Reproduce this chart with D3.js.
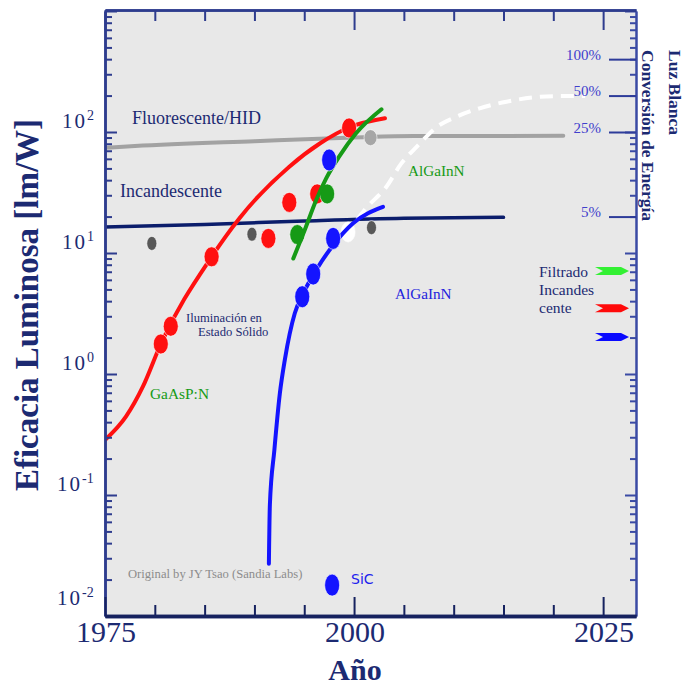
<!DOCTYPE html>
<html>
<head>
<meta charset="utf-8">
<script src="https://cdn.jsdelivr.net/npm/d3@7"></script>
<style>
  body { margin: 0; background: #fff; }
  svg { display: block; font-family: "Liberation Serif", "Times New Roman", serif; }
</style>
</head>
<body>
<svg id="chart" width="684" height="686"></svg>
<script>
// ---- tick labels ----
const yearTicks = [1975, 2000, 2025];
const yearMinorTicks = [1980, 1985, 1990, 1995, 2005, 2010, 2015, 2020];
const decadeExponents = [-2, -1, 0, 1, 2, 3];
const percentTicks = [100, 50, 25, 5];          // % of white-light maximum
const whiteLightMax = 400;                      // lm/W at 100 %

// ---- series: [year, lm/W] ----
const fluorescentHID = [[1975, 74], [1978, 76.5], [1990, 84], [2000, 90], [2006, 92.5], [2021, 93]];
const incandescent   = [[1975, 16.4], [1985, 17.2], [1995, 18.4], [2005, 19.4], [2015, 19.7]];
const sslCurve       = [[1975, 0.285], [1977.1, 0.444], [1978.8, 0.785], [1980.6, 1.77], [1985.7, 9.3],
                        [1988.5, 19.4], [1993.5, 51.7], [1996.6, 80.7], [1999.6, 110], [2003.1, 130]];
const greenAlGaInN   = [[1993.9, 9.0], [1995.05, 15.5], [1996.2, 27.4], [1997.2, 41.4], [1998.5, 62.5],
                        [2000.2, 97.5], [2002.75, 154]];
const blueAlGaInN    = [[1991.45, 0.027], [1991.55, 0.083], [1992.0, 0.235], [1992.55, 0.69], [1993.05, 1.31],
                        [1994.05, 3.18], [1994.9, 4.64], [1996.2, 7.24], [1997.9, 11.6], [1999.9, 17.6],
                        [2002.9, 24.1]];
const whiteProjection = [[1999.1, 13.6], [2001.2, 23.4], [2003.25, 35.3], [2004.75, 55], [2006.3, 75.6],
                         [2008.3, 110], [2010.3, 134], [2012.6, 157], [2015.3, 178], [2018.0, 193],
                         [2020.6, 198], [2023.2, 198]];

const redPoints      = [[1980.6, 1.77], [1981.6, 2.48], [1985.7, 9.3], [1991.4, 13.2], [1993.5, 26.2],
                        [1996.3, 30.8], [1999.5, 108]];
const greenPoints    = [[1994.3, 14.2], [1997.3, 30.8]];
const bluePoints     = [[1994.8, 4.35], [1995.9, 6.7], [1997.9, 13.2], [1997.5, 58.7]];
const sicPoints      = [[1997.8, 0.018]];
const whitePoints    = [[1999.4, 14.9]];
const darkGrayPoints = [[1979.7, 12.0], [1989.75, 14.3], [2001.75, 16.2]];
const lightGrayPoints = [[2001.65, 89.8]];

// filtered-incandescent markers on the right axis (lm/W)
const filterArrows = [["#33f033", 7.1], ["#ff0a0a", 3.5], ["#0a0aff", 2.02]];

// ---- layout ----
const svg = d3.select("#chart");
const plot = { left: 105, right: 636, top: 10, bottom: 616 };
const x = d3.scaleLinear().domain([1975, 2028.3]).range([plot.left, plot.right]);
const y = d3.scaleLog().domain([0.01, 1000]).range([plot.bottom, 11]);

const navy = "#1c2a72";
const axisColor = "#2e3c8e";

svg.append("rect")
  .attr("x", plot.left).attr("y", plot.top)
  .attr("width", plot.right - plot.left).attr("height", plot.bottom - plot.top)
  .attr("fill", "#e8e8e8");

svg.append("clipPath").attr("id", "plotClip").append("rect")
  .attr("x", plot.left).attr("y", plot.top)
  .attr("width", plot.right - plot.left).attr("height", plot.bottom - plot.top);

const majorY = decadeExponents.map(e => Math.pow(10, e));
const minorY = [];
decadeExponents.slice(0, -1).forEach(e => { for (let m = 2; m <= 9; m++) minorY.push(m * Math.pow(10, e)); });

function styleAxis(g, width, color) {
  g.selectAll("path.domain").attr("stroke", color).attr("stroke-width", width);
  g.selectAll(".tick line").attr("stroke", color).attr("stroke-width", 2);
  g.selectAll(".tick text").remove();
}

// ---- data layer ----
const layer = svg.append("g").attr("clip-path", "url(#plotClip)");
const line = d3.line().x(d => x(d[0])).y(d => y(d[1])).curve(d3.curveMonotoneX);

function drawLine(data, color, width, dash) {
  layer.append("path").datum(data)
    .attr("d", line).attr("fill", "none")
    .attr("stroke", color).attr("stroke-width", width)
    .attr("stroke-linecap", dash ? "butt" : "round")
    .attr("stroke-dasharray", dash || null);
}
function drawDots(data, color, rx, ry) {
  layer.append("g").selectAll("ellipse").data(data).join("ellipse")
    .attr("cx", d => x(d[0])).attr("cy", d => y(d[1]))
    .attr("rx", rx).attr("ry", ry)
    .attr("fill", color)
    .attr("stroke", "#ffffff").attr("stroke-opacity", 0.6).attr("stroke-width", 1);
}

drawLine(fluorescentHID, "#a2a2a2", 4);
drawLine(incandescent, "#0b1d6b", 3.5);
drawLine(whiteProjection, "#ffffff", 4, "13,8");
drawDots(whitePoints, "#ffffff", 7, 10);
drawLine(sslCurve, "#ff1010", 4);
drawDots(redPoints, "#ff1010", 7.5, 10);
drawDots(greenPoints, "#169a16", 7.5, 10);
drawLine(greenAlGaInN, "#169a16", 4);
drawLine(blueAlGaInN, "#1414ff", 4);
drawDots(bluePoints, "#1414ff", 7.5, 11);
drawDots(sicPoints, "#1414ff", 7.5, 11);
drawDots(darkGrayPoints, "#585858", 5, 7);
drawDots(lightGrayPoints, "#a6a6a6", 6.5, 8);

// ---- axes ----
// left
const gLeftMinor = svg.append("g").attr("transform", `translate(${plot.left},0)`)
  .call(d3.axisRight(y).tickValues(minorY).tickSize(7).tickSizeOuter(0).tickFormat(""));
styleAxis(gLeftMinor, 2.5, axisColor);
const gLeftMajor = svg.append("g").attr("transform", `translate(${plot.left},0)`)
  .call(d3.axisRight(y).tickValues(majorY).tickSize(12).tickSizeOuter(0).tickFormat(""));
styleAxis(gLeftMajor, 2.5, axisColor);

// right
const gRightMinor = svg.append("g").attr("transform", `translate(${plot.right},0)`)
  .call(d3.axisLeft(y).tickValues(minorY).tickSize(6).tickSizeOuter(0).tickFormat(""));
styleAxis(gRightMinor, 2, "#3a4aa4");
const gRightMajor = svg.append("g").attr("transform", `translate(${plot.right},0)`)
  .call(d3.axisLeft(y).tickValues(majorY).tickSize(11).tickSizeOuter(0).tickFormat(""));
styleAxis(gRightMajor, 2, "#3a4aa4");

const pctValues = percentTicks.map(p => p / 100 * whiteLightMax);
const gPct = svg.append("g").attr("transform", `translate(${plot.right},0)`)
  .call(d3.axisLeft(y).tickValues(pctValues).tickSize(27).tickSizeOuter(0).tickPadding(8)
        .tickFormat(v => Math.round(v / whiteLightMax * 100) + "%"));
gPct.select("path.domain").remove();
gPct.selectAll(".tick line").attr("stroke", "#2e3c9a").attr("stroke-width", 2);
gPct.selectAll(".tick text")
  .attr("font-family", "Liberation Serif, serif").attr("font-size", 15)
  .attr("fill", "#4040cc").attr("dy", "-0.0em");

// top
const gTopMinor = svg.append("g").attr("transform", `translate(0,${plot.top})`)
  .call(d3.axisBottom(x).tickValues(yearMinorTicks).tickSize(11).tickSizeOuter(0).tickFormat(""));
styleAxis(gTopMinor, 2.5, axisColor);
const gTopMajor = svg.append("g").attr("transform", `translate(0,${plot.top})`)
  .call(d3.axisBottom(x).tickValues(yearTicks).tickSize(20).tickSizeOuter(0).tickFormat(""));
styleAxis(gTopMajor, 2.5, axisColor);

// bottom
const gBotMinor = svg.append("g").attr("transform", `translate(0,${plot.bottom})`)
  .call(d3.axisTop(x).tickValues(yearMinorTicks).tickSize(11).tickSizeOuter(0).tickFormat(""));
styleAxis(gBotMinor, 3.5, "#16225f");
const gBotMajor = svg.append("g").attr("transform", `translate(0,${plot.bottom})`)
  .call(d3.axisTop(x).tickValues(yearTicks).tickSize(19).tickSizeOuter(0).tickFormat(""));
styleAxis(gBotMajor, 3.5, "#16225f");

// year labels
svg.append("g").selectAll("text").data(yearTicks).join("text")
  .attr("x", d => x(d) + 1).attr("y", 642)
  .attr("text-anchor", "middle").attr("font-size", 30).attr("fill", navy)
  .text(d => d);

// decade labels 10^n
const yLab = svg.append("g").selectAll("text").data(decadeExponents.filter(e => e <= 2)).join("text")
  .attr("x", e => e < 0 ? 57 : 62)
  .attr("y", e => Math.min(y(Math.pow(10, e)) - 4, 605))
  .attr("font-size", 21).attr("letter-spacing", 2).attr("fill", navy);
yLab.append("tspan").text("10");
yLab.append("tspan").attr("dy", -8).attr("font-size", 14).attr("letter-spacing", 0)
  .text(e => e < 0 ? "-" + Math.abs(e) : String(e));

// axis titles
svg.append("text")
  .attr("transform", "translate(38,305) rotate(-90)")
  .attr("text-anchor", "middle").attr("font-size", 33).attr("font-weight", "bold").attr("fill", navy)
  .text("Eficacia Luminosa [lm/W]");
svg.append("text")
  .attr("x", 355).attr("y", 680)
  .attr("text-anchor", "middle").attr("font-size", 30).attr("font-weight", "bold").attr("fill", navy)
  .text("Año");
const rightTitle = svg.append("text")
  .attr("transform", "translate(669,50) rotate(90)")
  .attr("font-size", 17.5).attr("font-weight", "bold").attr("fill", navy);
rightTitle.append("tspan").attr("x", 0).attr("y", 0).text("Luz Blanca");
rightTitle.append("tspan").attr("x", 0).attr("y", 27.5).text("Conversión de Energía");

// ---- annotations ----
function label(txt, px, py, size, color, family) {
  svg.append("text").attr("x", px).attr("y", py)
    .attr("font-size", size).attr("fill", color)
    .attr("font-family", family || null)
    .text(txt);
}
label("Fluorescente/HID", 132, 124, 18, navy);
label("Incandescente", 120, 197, 18, navy);
label("Iluminación en", 186, 322, 12.6, navy);
label("Estado Sólido", 198, 336, 12.6, navy);
label("GaAsP:N", 150, 398.5, 15.4, "#169a16");
label("AlGaInN", 408, 176, 15.2, "#169a16");
label("AlGaInN", 395, 298.5, 15.2, "#2222dd");
label("SiC", 351, 584, 14, "#2222ee", "DejaVu Sans, sans-serif");
label("Original by JY Tsao (Sandia Labs)", 128, 578, 12.6, "#8c8c8c");
label("Filtrado", 539, 277, 15.5, navy);
label("Incandes", 539, 295, 15.5, navy);
label("cente", 539, 312.5, 15.5, navy);

// filtered-incandescent arrows pointing at the right axis
const arrowShape = [[-34, -4], [-8, -4], [0, 0], [-8, 4], [-34, 4], [-26, 0]];
svg.append("g").selectAll("path").data(filterArrows).join("path")
  .attr("d", d => d3.line()(arrowShape.map(p => [plot.right - 7 + p[0], y(d[1]) + p[1]])) + "Z")
  .attr("fill", d => d[0]);
</script>
</body>
</html>
